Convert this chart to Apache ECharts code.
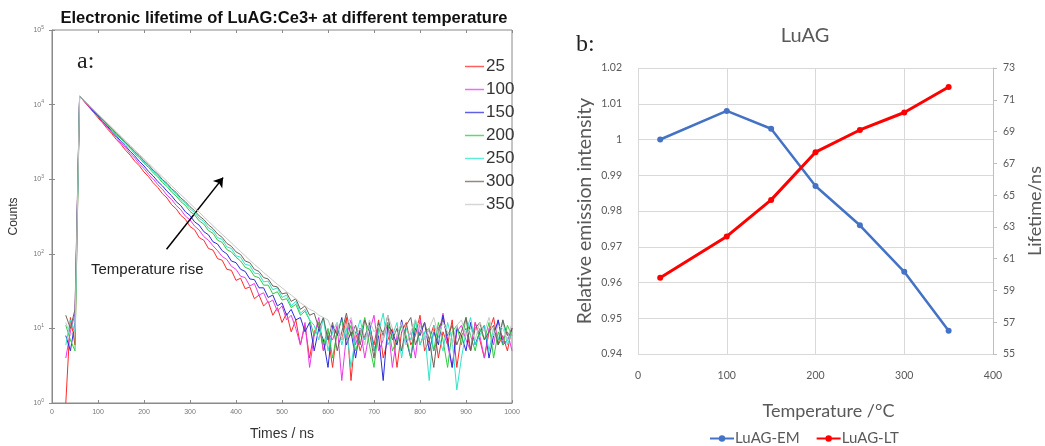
<!DOCTYPE html>
<html>
<head>
<meta charset="utf-8">
<script src="https://cdn.jsdelivr.net/npm/echarts@6/dist/echarts.min.js"></script>
<style>
  html, body { margin: 0; padding: 0; background: #fff; }
  #chart { width: 1045px; height: 446px; }
</style>
</head>
<body>
<div id="chart"></div>
<script>
// ---- Panel a: photoluminescence decay, counts vs time (ns) ----
const times = [30, 40, 50, 60, 70, 80, 90, 100, 110, 120, 130, 140, 150, 160, 170, 180, 190, 200,
  210, 220, 230, 240, 250, 260, 270, 280, 290, 300, 310, 320, 330, 340, 350, 360, 370, 380, 390, 400,
  410, 420, 430, 440, 450, 460, 470, 480, 490, 500, 510, 520, 530, 540, 550, 560, 570, 580, 590, 600,
  610, 620, 630, 640, 650, 660, 670, 680, 690, 700, 710, 720, 730, 740, 750, 760, 770, 780, 790, 800,
  810, 820, 830, 840, 850, 860, 870, 880, 890, 900, 910, 920, 930, 940, 950, 960, 970, 980, 990, 1000];

const decayNames = ['25', '100', '150', '200', '250', '300', '350'];
const decayColors = ['#ff2a2a', '#e83ce8', '#2b2bdc', '#2ecc40', '#2ee6c8', '#6e6358', '#c8c8c8'];

const counts25 = [1, 14, 6,
  13000, 11000, 9300, 7900, 6650, 5680, 4760, 4070, 3400, 2930,
  2440, 2100, 1740, 1510, 1250, 1080, 895, 775, 640, 560,
  455, 400, 328, 290, 232, 210, 165, 152, 118, 112,
  86, 82, 62, 60, 44, 47, 34, 36, 25, 28,
  20, 23, 15, 19, 12,
  16, 9, 13, 6, 11, 4, 9, 12, 5, 8,
  3, 10, 7, 14, 2, 9, 5, 8, 11, 6,
  13, 4, 7, 10, 3, 9, 12, 6, 8, 15,
  5, 7, 11, 4, 9, 6, 13, 3, 8, 10,
  5, 12, 7, 4, 9, 14, 6, 8, 5, 10];
const counts100 = [4, 9, 16,
  13000, 11050, 9480, 8000, 6880, 5800, 5000, 4210, 3630, 3050,
  2640, 2210, 1915, 1600, 1395, 1160, 1010, 845, 735, 610,
  535, 445, 390, 320, 285, 235, 208, 170, 152, 128,
  110, 92, 84, 68, 62, 50, 48, 37, 40, 28,
  30, 22, 24, 17, 20, 13, 15,
  10, 6, 12, 3, 8, 14, 5, 9, 7, 11,
  2, 8, 13, 6, 10, 4, 9, 15, 5, 7,
  12, 3, 8, 11, 6, 9, 4, 13, 7, 10,
  5, 8, 16, 6, 3, 9, 11, 7, 5, 12,
  8, 4, 10, 6, 13, 7, 9, 5];
const counts150 = [8, 5, 12,
  13000, 11100, 9600, 8140, 7050, 5960, 5180, 4380, 3800, 3210,
  2790, 2360, 2050, 1730, 1505, 1270, 1105, 930, 815, 690,
  600, 500, 442, 365, 326, 268, 242, 198, 180, 145,
  135, 110, 100, 80, 76, 62, 58, 46, 45, 35,
  35, 26, 28, 20, 22, 15, 18, 13, 14,
  9, 12, 5, 10, 7, 3, 11, 8, 14, 6,
  9, 4, 10, 7, 12, 5, 8, 2, 11, 9,
  6, 13, 7, 4, 10, 8, 12, 5, 9, 6,
  15, 7, 3, 10, 8, 5, 12, 6, 9, 11,
  4, 8, 13, 6, 7, 10];
const counts200 = [11, 7, 5,
  13000, 11250, 9700, 8400, 7180, 6260, 5330, 4650, 3960, 3470,
  2950, 2590, 2190, 1930, 1630, 1435, 1215, 1070, 900, 800,
  670, 595, 500, 445, 370, 332, 276, 250, 205, 188,
  152, 142, 114, 106, 90, 80, 66, 62, 50, 48,
  38, 38, 29, 31, 24, 25, 19, 21, 15, 17,
  13,
  8, 12, 6, 10, 4, 9, 13, 7, 11, 5,
  8, 14, 6, 3, 10, 9, 12, 5, 7, 11,
  8, 4, 13, 6, 9, 10, 5, 12, 7, 3,
  9, 11, 6, 14, 8, 5, 10, 7, 12, 4,
  9, 6, 11, 8];
const counts250 = [6, 13, 9,
  13000, 11280, 9760, 8460, 7270, 6340, 5430, 4760, 4060, 3570,
  3040, 2680, 2270, 2010, 1700, 1510, 1270, 1130, 950, 850,
  710, 640, 530, 480, 400, 358, 298, 272, 222, 205,
  165, 156, 124, 118, 94, 90, 72, 70, 55, 54,
  42, 43, 33, 35, 26, 28, 20, 23, 16, 18,
  13,
  11, 7, 14, 5, 9, 12, 6, 10, 3, 8,
  13, 7, 11, 5, 9, 16, 6, 8, 12, 4,
  10, 7, 13, 6, 9, 2, 11, 8, 5, 12,
  7, 1.5, 4, 9, 14, 6, 8, 11, 5, 10,
  7, 13, 6, 9];
const counts300 = [15, 10, 18,
  13000, 11300, 9800, 8520, 7340, 6400, 5510, 4820, 4140, 3630,
  3110, 2730, 2340, 2060, 1760, 1550, 1320, 1170, 990, 880,
  745, 665, 560, 500, 428, 378, 322, 288, 244, 218,
  184, 166, 138, 126, 106, 98, 80, 76, 62, 58,
  48, 46, 37, 36, 29, 30, 23, 25, 18, 20,
  15, 16,
  10, 14, 7, 12, 5, 9, 16, 8, 11, 6,
  13, 9, 4, 12, 8, 15, 7, 10, 5, 11,
  14, 6, 9, 12, 7, 3, 10, 13, 8, 11,
  6, 9, 14, 5, 10, 12, 7, 9, 11, 6,
  13, 8, 10];
const counts350 = [12, 8, 10,
  13000, 11330, 9870, 8600, 7480, 6520, 5670, 4940, 4300, 3750,
  3260, 2840, 2470, 2150, 1875, 1630, 1420, 1235, 1075, 940,
  815, 712, 620, 542, 472, 412, 360, 314, 274, 238,
  208, 182, 160, 140, 122, 107, 94, 82, 72, 64,
  56, 50, 44, 39, 35, 31, 28, 25, 22, 20,
  18, 17, 15, 14, 13,
  9, 12, 7, 11, 14, 8, 10, 6, 13, 9,
  11, 7, 15, 10, 8, 12, 6, 9, 13, 11,
  7, 10, 14, 8, 12, 9, 6, 11, 13, 8,
  10, 7, 12, 9, 14, 8, 11, 10, 7, 12];
const decayCounts = [counts25, counts100, counts150, counts200, counts250, counts300, counts350];

// "Temperature rise" arrow, in data units (ns, counts)
const arrowFrom = [249, 115];
const arrowTo = [372, 1050];

// ---- Panel b: emission intensity and lifetime vs temperature ----
const temperatures = [25, 100, 150, 200, 250, 300, 350];
const emIntensity = [1.000, 1.008, 1.003, 0.987, 0.976, 0.963, 0.9465];
const lifetimeNs = [59.8, 62.4, 64.7, 67.7, 69.1, 70.2, 71.8];

const chart = echarts.init(document.getElementById('chart'), null, { renderer: 'canvas' });

const sansA = 'Liberation Sans, Arial, sans-serif';
const sansB = 'Lato, Open Sans, sans-serif';

const decaySeries = decayNames.map((name, i) => ({
  name: name,
  type: 'line',
  xAxisIndex: 0,
  yAxisIndex: 0,
  symbol: 'none',
  animation: false,
  lineStyle: { width: 1, color: decayColors[i] },
  itemStyle: { color: decayColors[i] },
  data: times.map((t, j) => [t, decayCounts[i][j]]),
  z: 2 + i
}));

decaySeries[decaySeries.length - 1].markLine = {
  silent: true,
  symbol: ['none', 'arrow'],
  symbolSize: 9,
  label: { show: false },
  lineStyle: { color: '#000', width: 1.5, type: 'solid' },
  data: [[{ coord: arrowFrom }, { coord: arrowTo }]]
};

const logLabel = {
  fontSize: 7,
  color: '#777',
  fontFamily: sansA,
  formatter: v => '10{s|' + Math.round(Math.log10(v)) + '}',
  rich: { s: { fontSize: 5, color: '#777', verticalAlign: 'top', padding: [0, 0, 5, 0] } }
};

const option = {
  backgroundColor: '#fff',
  animation: false,
  grid: [
    { left: 52, top: 30, width: 460, height: 383, show: true, borderColor: '#8a8a8a', borderWidth: 1, backgroundColor: 'transparent' },
    { left: 638, top: 68, width: 358, height: 286 }
  ],
  legend: [
    {
      data: decayNames.map((n, i) => ({ name: n, itemStyle: { color: decayColors[i], opacity: 0.75 } })),
      orient: 'vertical',
      left: 460,
      top: 53,
      itemWidth: 19,
      itemHeight: 1.5,
      itemGap: 6,
      icon: 'rect',
      textStyle: { fontSize: 17, color: '#333', fontFamily: sansA, padding: [0, 0, 0, -3], lineHeight: 17 },
      selectedMode: false
    },
    {
      data: ['LuAG-EM', 'LuAG-LT'],
      left: 704,
      top: 426,
      itemWidth: 24,
      itemHeight: 8,
      itemGap: 16,
      textStyle: { fontSize: 15, color: '#595959', fontFamily: sansB, padding: [0, 0, 0, -4] },
      selectedMode: false
    }
  ],
  xAxis: [
    {
      gridIndex: 0, type: 'value', min: 0, max: 1000, interval: 100,
      name: 'Times / ns', nameLocation: 'middle', nameGap: 24,
      nameTextStyle: { fontSize: 14, color: '#333', fontFamily: sansA },
      axisLine: { show: true, lineStyle: { color: '#8a8a8a' } },
      axisTick: { show: true, inside: true, length: 3, lineStyle: { color: '#8a8a8a' } },
      axisLabel: { fontSize: 7, color: '#777', fontFamily: sansA, margin: 6, formatter: v => String(v) },
      splitLine: { show: false }
    },
    {
      gridIndex: 0, type: 'value', min: 0, max: 1000, interval: 100, position: 'top',
      axisLine: { show: false },
      axisTick: { show: true, inside: true, length: 3, lineStyle: { color: '#8a8a8a' } },
      axisLabel: { show: false },
      splitLine: { show: false }
    },
    {
      gridIndex: 1, type: 'value', min: 0, max: 400, interval: 100,
      name: 'Temperature /°C', nameLocation: 'middle', nameGap: 48,
      nameTextStyle: { fontSize: 18, color: '#595959', fontFamily: sansB, padding: [0, 0, 0, 26] },
      axisLine: { show: false },
      axisTick: { show: false },
      axisLabel: { fontSize: 10.5, color: '#595959', fontFamily: sansB, margin: 16 },
      splitLine: { show: true, lineStyle: { color: '#d9d9d9', width: 1 } }
    }
  ],
  yAxis: [
    {
      gridIndex: 0, type: 'log', logBase: 10, min: 1, max: 100000,
      name: 'Counts', nameLocation: 'middle', nameGap: 32,
      nameTextStyle: { fontSize: 12, color: '#333', fontFamily: sansA },
      axisLine: { show: true, lineStyle: { color: '#8a8a8a' } },
      axisTick: { show: true, inside: true, length: 3, lineStyle: { color: '#8a8a8a' } },
      axisLabel: Object.assign({ margin: 8 }, logLabel),
      splitLine: { show: false }
    },
    {
      gridIndex: 0, type: 'log', logBase: 10, min: 1, max: 100000, position: 'right',
      axisLine: { show: false },
      axisTick: { show: true, inside: true, length: 3, lineStyle: { color: '#8a8a8a' } },
      axisLabel: { show: false },
      splitLine: { show: false }
    },
    {
      gridIndex: 1, type: 'value', min: 0.94, max: 1.02, interval: 0.01,
      name: 'Relative emission intensity', nameLocation: 'middle', nameGap: 43,
      nameTextStyle: { fontSize: 19.5, color: '#595959', fontFamily: sansB },
      axisLine: { show: false },
      axisTick: { show: false },
      axisLabel: { fontSize: 10.5, color: '#595959', fontFamily: sansB, margin: 16,
        formatter: v => String(Math.round(v * 100) / 100) },
      splitLine: { show: true, lineStyle: { color: '#d9d9d9', width: 1 } }
    },
    {
      gridIndex: 1, type: 'value', min: 55, max: 73, interval: 2, position: 'right',
      name: 'Lifetime/ns', nameLocation: 'middle', nameGap: 33,
      nameTextStyle: { fontSize: 18, color: '#595959', fontFamily: sansB },
      axisLine: { show: true, lineStyle: { color: '#bfbfbf' } },
      axisTick: { show: true, length: 4, lineStyle: { color: '#bfbfbf' } },
      axisLabel: { fontSize: 10.5, color: '#595959', fontFamily: sansB, margin: 10 },
      splitLine: { show: false }
    }
  ],
  graphic: [
    {
      type: 'text', x: 284, y: 10,
      style: { text: 'Electronic lifetime of LuAG:Ce3+ at different temperature', textAlign: 'center',
        font: 'bold 16.5px ' + sansA, fill: '#111' }
    },
    { type: 'text', x: 77, y: 50, style: { text: 'a:', font: '24px Liberation Serif, serif', fill: '#222' } },
    { type: 'text', x: 91, y: 262, style: { text: 'Temperature rise', font: '15px ' + sansA, fill: '#222' } },
    { type: 'text', x: 576, y: 33, style: { text: 'b:', font: '24px Liberation Serif, serif', fill: '#222' } },
    {
      type: 'text', x: 805, y: 26,
      style: { text: 'LuAG', textAlign: 'center', font: '20px ' + sansB, fill: '#595959' }
    }
  ],
  series: decaySeries.concat([
    {
      name: 'LuAG-EM', type: 'line', xAxisIndex: 2, yAxisIndex: 2,
      symbol: 'circle', symbolSize: 6,
      lineStyle: { width: 2.5, color: '#4472C4' },
      itemStyle: { color: '#4472C4' },
      data: temperatures.map((t, i) => [t, emIntensity[i]]),
      z: 5
    },
    {
      name: 'LuAG-LT', type: 'line', xAxisIndex: 2, yAxisIndex: 3,
      symbol: 'circle', symbolSize: 6,
      lineStyle: { width: 3, color: '#FF0000' },
      itemStyle: { color: '#FF0000' },
      data: temperatures.map((t, i) => [t, lifetimeNs[i]]),
      z: 6
    }
  ])
};

chart.setOption(option);
</script>
</body>
</html>
